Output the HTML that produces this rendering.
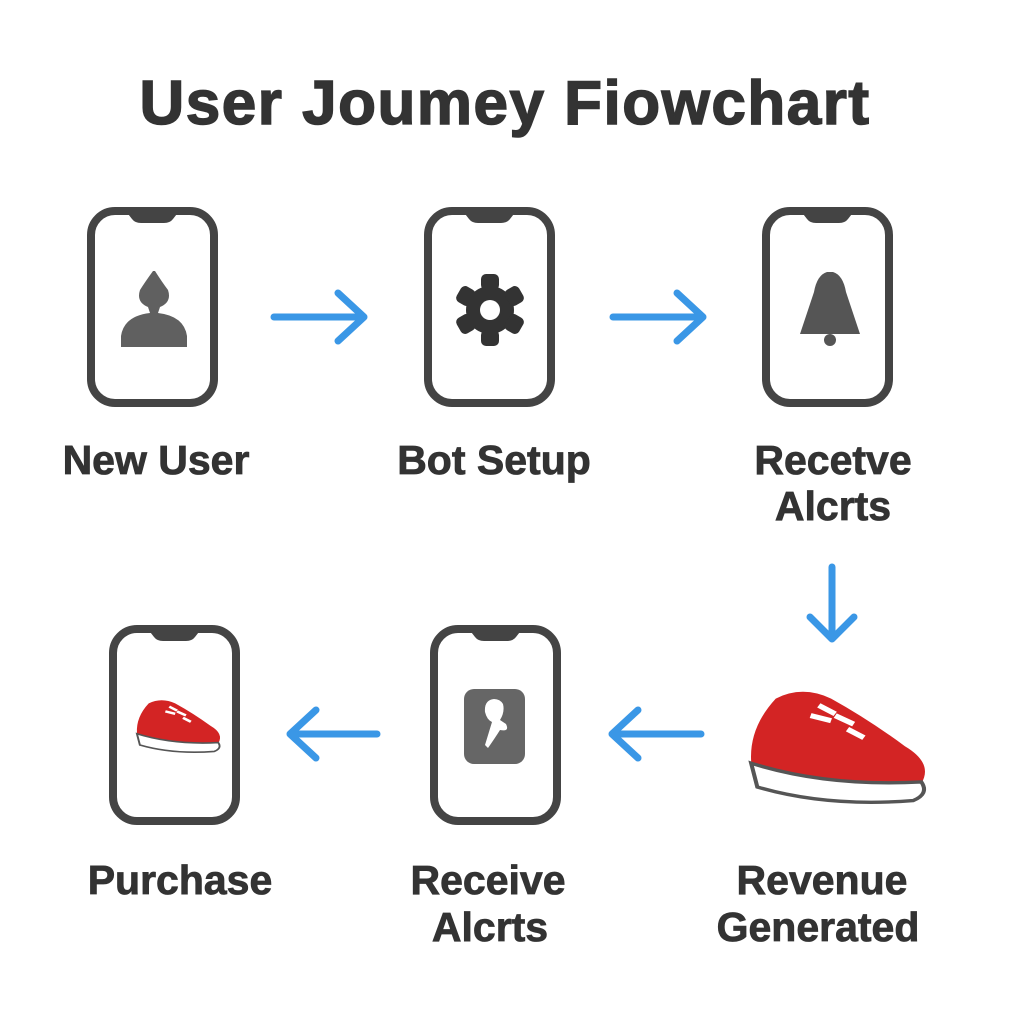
<!DOCTYPE html>
<html><head><meta charset="utf-8"><style>
html,body{margin:0;padding:0;background:#fff;}
svg{display:block;}
text{font-family:"Liberation Sans",sans-serif;font-weight:bold;fill:#333;}
</style></head><body>
<svg width="1024" height="1024" viewBox="0 0 1024 1024" xmlns="http://www.w3.org/2000/svg">
<defs>
<g id="phone">
<rect x="4" y="4" width="123" height="192" rx="24" fill="#fff" stroke="#444" stroke-width="8"/>
<path d="M38 3 L45 12 Q48 16 54 16 L77 16 Q83 16 86 12 L93 3 Z" fill="#444"/>
</g>
<g id="shoe">
<path d="M3 45 Q2 25 15 8 Q28 0 42 8 Q60 20 78 36 Q92 46 86 58 L8 56 Z" fill="#d32424"/>
<path d="M3 46 Q40 60 86 57 Q90 64 82 68 Q40 72 6 60 Z" fill="#fff" stroke="#555" stroke-width="2"/>
<path d="M36 12 l8 5 M44 18 l9 5 M32 18 l10 3 M50 26 l8 5" stroke="#fff" stroke-width="3"/>
</g>
</defs>
<text x="505" y="124" font-size="62" letter-spacing="1.5" text-anchor="middle" stroke="#333" stroke-width="1.5">User Joumey Fiowchart</text>

<use href="#phone" x="87" y="207"/>
<use href="#phone" x="424" y="207"/>
<use href="#phone" x="762" y="207"/>
<use href="#phone" x="109" y="625"/>
<use href="#phone" x="430" y="625"/>

<path d="M153 271 Q145 282 140 290 Q136 302 148 307 L150 313 Q124 316 121 336 L121 347 L187 347 L187 336 Q184 316 158 313 L160 307 Q172 302 168 290 Q162 282 155 271 Z" fill="#606060"/>
<g transform="translate(490,310)" fill="#333">
<circle r="24"/>
<g id="t"><rect x="-9" y="-36" width="18" height="16" rx="5"/></g>
<use href="#t" transform="rotate(60)"/><use href="#t" transform="rotate(120)"/><use href="#t" transform="rotate(180)"/><use href="#t" transform="rotate(240)"/><use href="#t" transform="rotate(300)"/>
<circle r="10" fill="#fff"/>
</g>
<path d="M827 272 Q817 275 814 292 L800 334 L860 334 L846 292 Q843 275 833 272 Z" fill="#555"/>
<circle cx="830" cy="340" r="6" fill="#555"/>
<rect x="464" y="689" width="61" height="75" rx="10" fill="#666"/>
<path d="M494 699 Q484 700 485 712 Q487 720 492 722 L485 745 L488 748 Q495 738 500 730 Q510 732 506 724 L500 720 Q505 712 503 704 Q500 699 494 699 Z" fill="#fff"/>
<use href="#shoe" transform="translate(134,697) scale(0.98,0.8)"/>
<use href="#shoe" transform="translate(745,685) scale(2.05,1.7)"/>

<g stroke="#3a97e6" stroke-width="7" stroke-linecap="round" stroke-linejoin="round" fill="none">
<path d="M274 317 H364 M338 293 L364 317 L338 341"/>
<path d="M613 317 H703 M677 293 L703 317 L677 341"/>
<path d="M832 567 V639 M810 617 L832 639 L854 617"/>
<path d="M377 734 H290 M316 710 L290 734 L316 758"/>
<path d="M701 734 H612 M638 710 L612 734 L638 758"/>
</g>

<g font-size="41" text-anchor="middle" stroke="#333" stroke-width="0.8">
<text x="156" y="474">New User</text>
<text x="494" y="474">Bot Setup</text>
<text x="833" y="474">Recetve</text>
<text x="833" y="520">Alcrts</text>
<text x="180" y="894">Purchase</text>
<text x="488" y="894">Receive</text>
<text x="490" y="941">Alcrts</text>
<text x="822" y="894">Revenue</text>
<text x="818" y="941">Generated</text>
</g>
</svg>
</body></html>
